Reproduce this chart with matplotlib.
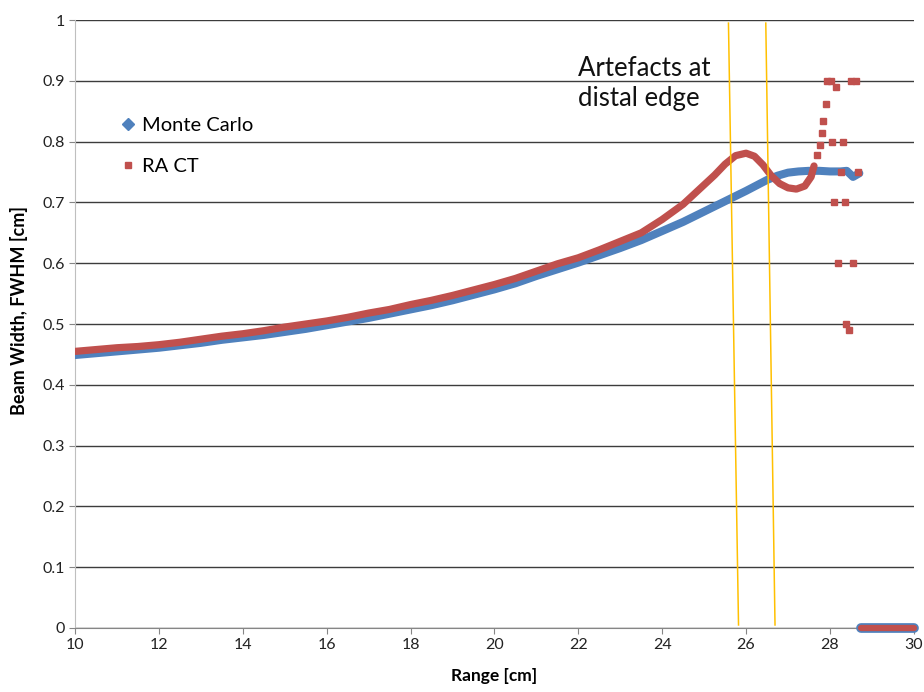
import matplotlib.pyplot as plt
from matplotlib.lines import Line2D

plt.rcParams['font.family'] = ['Lato', 'DejaVu Sans']

# Monte Carlo curve
mc_x = [10, 10.5, 11, 11.5, 12, 12.5, 13, 13.5, 14, 14.5, 15, 15.5, 16, 16.5, 17, 17.5,
        18, 18.5, 19, 19.5, 20, 20.5, 21, 21.5, 22, 22.5, 23, 23.5, 24, 24.5, 25, 25.5,
        26, 26.25, 26.5, 26.75, 27, 27.25, 27.5, 27.75, 28, 28.25, 28.4, 28.55, 28.7]
mc_y = [0.449, 0.452, 0.455, 0.458, 0.461, 0.465, 0.469, 0.474, 0.478, 0.482, 0.487, 0.492,
        0.498, 0.504, 0.510, 0.517, 0.524, 0.531, 0.539, 0.548, 0.557, 0.567, 0.579, 0.590,
        0.601, 0.613, 0.625, 0.638, 0.653, 0.668, 0.685, 0.702, 0.719, 0.728, 0.737, 0.744,
        0.749, 0.751, 0.752, 0.752, 0.751, 0.751, 0.752, 0.742, 0.748]

# RA CT curve
ra_x = [10, 10.5, 11, 11.5, 12, 12.5, 13, 13.5, 14, 14.5, 15, 15.5, 16, 16.5, 17, 17.5,
        18, 18.5, 19, 19.5, 20, 20.5, 21, 21.5, 22, 22.5, 23, 23.5, 24, 24.5, 25, 25.25,
        25.5, 25.75, 26, 26.2, 26.4, 26.6, 26.8, 27.0, 27.2, 27.4, 27.55, 27.62]
ra_y = [0.455, 0.458, 0.461, 0.463, 0.466, 0.470, 0.475, 0.480, 0.484, 0.489, 0.495, 0.500,
        0.505, 0.511, 0.518, 0.524, 0.532, 0.539, 0.547, 0.556, 0.565, 0.575, 0.587, 0.599,
        0.609, 0.622, 0.636, 0.650, 0.672, 0.697, 0.729, 0.745, 0.763, 0.777, 0.781, 0.776,
        0.762, 0.744, 0.731, 0.724, 0.722, 0.727, 0.742, 0.760]

# RA CT scattered points at distal edge
ra_sc_x = [27.70, 27.76, 27.80, 27.84, 27.91, 27.94, 28.02, 28.14, 28.50, 28.62,
           28.04, 28.31, 28.26, 28.66, 28.10, 28.35, 28.19, 28.55, 28.39, 28.45]
ra_sc_y = [0.778, 0.794, 0.814, 0.834, 0.862, 0.90, 0.90, 0.89, 0.90, 0.90,
           0.80, 0.80, 0.75, 0.75, 0.70, 0.70, 0.60, 0.60, 0.50, 0.49]

# zero values beyond the range
zero_x = [28.75, 29.0, 29.25, 29.5, 29.75, 30.0]
zero_y = [0, 0, 0, 0, 0, 0]

blue = '#4F81BD'
red = '#C0504D'
gold = '#FFC000'

fig = plt.figure(figsize=(9.24, 6.92), dpi=100)
ax = fig.add_axes([0.0812, 0.0925, 0.9078, 0.8785])

ax.plot(mc_x, mc_y, color=blue, lw=5.8, solid_capstyle='round', solid_joinstyle='round', zorder=3)
ax.plot(zero_x, zero_y, color=blue, lw=7, solid_capstyle='round', zorder=3, clip_on=False)

ax.plot(ra_x, ra_y, color=red, lw=5.2, solid_capstyle='round', solid_joinstyle='round', zorder=4)
ax.plot(ra_sc_x, ra_sc_y, 's', color=red, ms=4.5, lw=0, zorder=4)
ax.plot(zero_x, zero_y, color=red, lw=4.5, solid_capstyle='round', zorder=4, clip_on=False)

# artefact markers
ax.plot([25.58, 25.82], [0.995, 0.005], color=gold, lw=1.1, zorder=5)
ax.plot([26.47, 26.69], [0.995, 0.005], color=gold, lw=1.1, zorder=5)
ax.text(21.99, 0.895, 'Artefacts at\ndistal edge', fontsize=18.5, ha='left', va='center',
        linespacing=1.25, color='#111111')

ax.set_xlim(10, 30)
ax.set_ylim(0, 1)
ax.set_xticks(range(10, 31, 2))
ax.set_yticks([i / 10 for i in range(11)])
ax.set_yticklabels(['0', '0.1', '0.2', '0.3', '0.4', '0.5', '0.6', '0.7', '0.8', '0.9', '1'])
ax.yaxis.grid(True, color='#3c3c3c', lw=1.0)
ax.set_axisbelow(True)
for s in ['top', 'right']:
    ax.spines[s].set_visible(False)
ax.spines['left'].set_color('#BFBFBF')
ax.spines['bottom'].set_color('#868686')
ax.tick_params(axis='both', colors='#868686', labelcolor='#222222', labelsize=11.5, length=4)

ax.set_xlabel('Range [cm]', fontsize=12.5, fontweight='bold', labelpad=11)
ax.set_ylabel('Beam Width, FWHM [cm]', fontsize=13, fontweight='bold')
ax.yaxis.set_label_coords(-0.056, 0.523)

handles = [Line2D([], [], marker='D', color=blue, lw=0, ms=6),
           Line2D([], [], marker='s', color=red, lw=0, ms=5)]
ax.legend(handles, ['Monte Carlo', 'RA CT'], loc='upper left', bbox_to_anchor=(0.03, 0.87),
          frameon=False, fontsize=14.5, labelspacing=1.15, handletextpad=0.2, handlelength=1.0)

fig.savefig('out.png', dpi=100)
